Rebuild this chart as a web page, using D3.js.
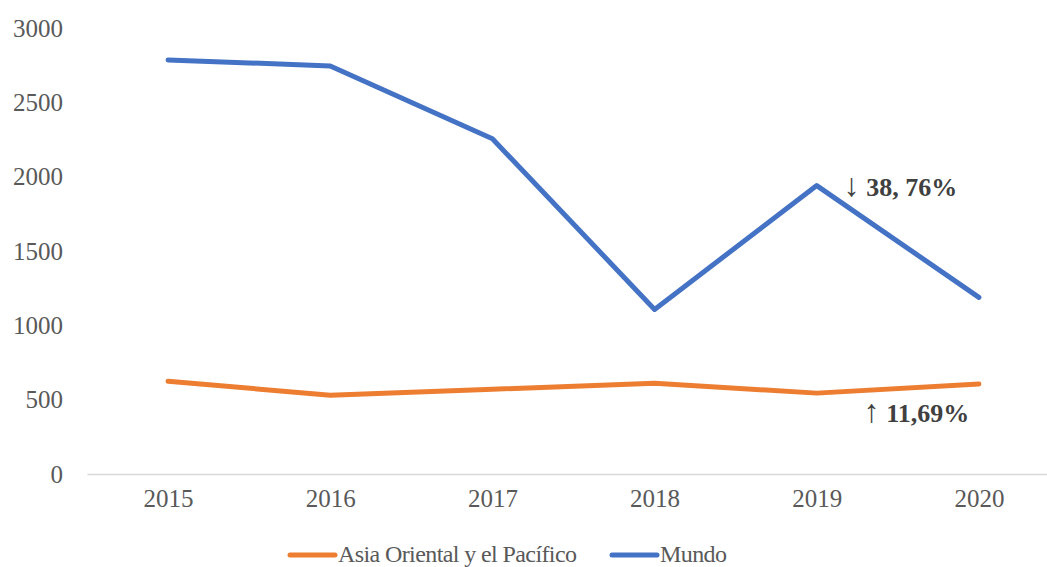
<!DOCTYPE html>
<html>
<head>
<meta charset="utf-8">
<script src="https://cdn.jsdelivr.net/npm/d3@7"></script>
<style>
  body { margin: 0; background: #fff; }
  svg { display: block; font-family: "Liberation Serif", "Times New Roman", serif; }
</style>
</head>
<body>
<div id="graf"></div>
<script>
const years = ["2015", "2016", "2017", "2018", "2019", "2020"]
const asia = [624, 530, 570, 611, 544, 606]
const mundo = [2785, 2745, 2255, 1107, 1940, 1188]
const yTicks = [0, 500, 1000, 1500, 2000, 2500, 3000]
const seriesNames = ["Asia Oriental y el Pacífico", "Mundo"]
const colors = ["#ED7D31", "#4472C4"]

const anchoTotal = 1047
const altoTotal = 567
const margins = { top: 28, right: -13, bottom: 93, left: 87 }
const ancho = anchoTotal - margins.left - margins.right
const alto = altoTotal - margins.top - margins.bottom

const svg = d3.select("#graf")
  .append("svg")
  .attr("width", anchoTotal)
  .attr("height", altoTotal)

const g = svg.append("g")
  .attr("transform", `translate(${margins.left}, ${margins.top})`)

const x = d3.scalePoint().domain(years).range([0, ancho]).padding(0.5)
const y = d3.scaleLinear().domain([0, 3000]).range([alto, 0])

// eje y (sin línea)
const yAxis = g.append("g")
  .call(d3.axisLeft(y).tickValues(yTicks).tickFormat(d3.format("d")).tickSize(0).tickPadding(24))
yAxis.select(".domain").remove()
yAxis.selectAll("text")
  .attr("fill", "#595959")
  .style("font-size", "25px")
  .style("font-family", "Liberation Serif")

// eje x
const xAxis = g.append("g")
  .attr("transform", `translate(0, ${alto})`)
  .call(d3.axisBottom(x).tickSize(0).tickPadding(15))
xAxis.select(".domain").attr("stroke", "#d9d9d9").attr("stroke-width", 1.5)
xAxis.selectAll("text")
  .attr("fill", "#595959")
  .style("font-size", "25px")
  .style("font-family", "Liberation Serif")

const line = d3.line()
  .x((d, i) => x(years[i]))
  .y(d => y(d))

;[asia, mundo].forEach((serie, k) => {
  g.append("path")
    .datum(serie)
    .attr("fill", "none")
    .attr("stroke", colors[k])
    .attr("stroke-width", 5)
    .attr("stroke-linecap", "round")
    .attr("stroke-linejoin", "round")
    .attr("d", line)
})

// anotaciones (flecha + porcentaje en un mismo texto)
const anot = [
  { arrow: "↓", txt: " 38, 76%", ax: 27, dy: 10, v: mundo[4] },
  { arrow: "↑", txt: " 11,69%", ax: 47, dy: 29, v: asia[4] },
]
anot.forEach(a => {
  const t = g.append("text")
    .attr("x", x("2019") + a.ax)
    .attr("y", y(a.v) + a.dy)
    .attr("fill", "#404040")
    .style("font-size", "26px")
  t.append("tspan")
    .style("font-size", "32px")
    .text(a.arrow)
  t.append("tspan")
    .style("font-weight", "bold")
    .text(a.txt)
})

// leyenda
const legendX = [290, 612]
const legend = svg.append("g")
seriesNames.forEach((name, k) => {
  legend.append("line")
    .attr("x1", legendX[k]).attr("x2", legendX[k] + 45)
    .attr("y1", 555).attr("y2", 555)
    .attr("stroke", colors[k])
    .attr("stroke-width", 5)
    .attr("stroke-linecap", "round")
  legend.append("text")
    .attr("x", legendX[k] + 48)
    .attr("y", 562)
    .attr("fill", "#595959")
    .style("font-size", "24px")
    .style("letter-spacing", "-0.6px")
    .text(name)
})
</script>
</body>
</html>
